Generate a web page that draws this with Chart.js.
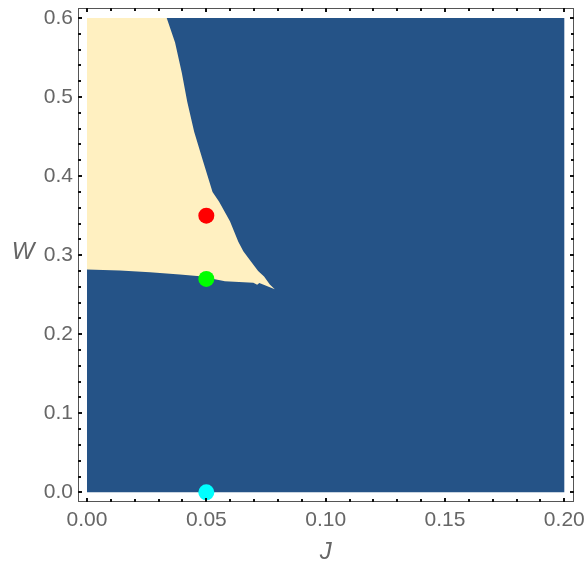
<!DOCTYPE html>
<html>
<head>
<meta charset="utf-8">
<script src="https://cdn.jsdelivr.net/npm/chart.js@4.4.0/dist/chart.umd.min.js"></script>
<style>
  html, body { margin: 0; padding: 0; background: #fff; }
</style>
</head>
<body>
<canvas id="myChart" width="587" height="567"></canvas>
<script>
// Datos de la region (J, W)
const blueJ = [0, 0.2, 0.2, 0];
const blueW = [0, 0, 0.6, 0.6];

const creamJ = [0, 0.0334, 0.0369, 0.0397, 0.0420, 0.0449, 0.0487, 0.0526, 0.0553, 0.0599,
    0.0634, 0.0655, 0.0687, 0.0717, 0.0742, 0.0766, 0.0787,
    0.0722, 0.0713, 0.0697, 0.0578, 0.0473, 0.0389, 0.0264, 0.0138, 0];
const creamW = [0.6, 0.6, 0.569, 0.531, 0.494, 0.456, 0.418, 0.380, 0.368, 0.343,
    0.317, 0.305, 0.292, 0.280, 0.273, 0.263, 0.257,
    0.2648, 0.2625, 0.2650, 0.2670, 0.2732, 0.2755, 0.2784, 0.2805, 0.2818];

const pointJ = [0.05, 0.05, 0.05];
const pointW = [0.35, 0.27, 0.0];
const pointColors = ['#FF0000', '#00FF00', '#00FFFF'];

const xTicks = [0, 0.05, 0.10, 0.15, 0.20];
const xTickLabels = ['0.00', '0.05', '0.10', '0.15', '0.20'];
const yTicks = [0, 0.1, 0.2, 0.3, 0.4, 0.5, 0.6];
const yTickLabels = ['0.0', '0.1', '0.2', '0.3', '0.4', '0.5', '0.6'];

function toXY(xs, ys) {
    return xs.map((x, i) => ({ x: x, y: ys[i] }));
}

function noPad(s) {
    s.paddingTop = 0;
    s.paddingBottom = 0;
    s.paddingLeft = 0;
    s.paddingRight = 0;
}

// Marco con ticks hacia adentro
const framePlugin = {
    id: 'frame',
    afterDraw(chart) {
        const ctx = chart.ctx;
        const a = chart.chartArea;
        const xs = chart.scales.x;
        const ys = chart.scales.y;
        ctx.save();
        ctx.strokeStyle = '#555';
        ctx.lineWidth = 1;
        ctx.strokeRect(a.left + 0.5, a.top + 0.5, a.right - a.left - 1, a.bottom - a.top - 1);

        ctx.strokeStyle = '#111';
        ctx.lineWidth = 2;
        ctx.beginPath();
        for (let i = 0; i <= 20; i++) {
            const v = i * 0.01;
            const len = (i % 5 === 0) ? 4 : 3;
            const px = Math.round(xs.getPixelForValue(v));
            ctx.moveTo(px, a.bottom); ctx.lineTo(px, a.bottom - len);
            ctx.moveTo(px, a.top); ctx.lineTo(px, a.top + len);
        }
        for (let i = 0; i <= 30; i++) {
            const v = i * 0.02;
            const len = (i % 5 === 0) ? 4 : 3;
            const py = Math.round(ys.getPixelForValue(v));
            ctx.moveTo(a.left, py); ctx.lineTo(a.left + len, py);
            ctx.moveTo(a.right, py); ctx.lineTo(a.right - len, py);
        }
        ctx.stroke();

        // titulos de ejes
        ctx.fillStyle = '#666';
        ctx.font = 'italic 24px "Liberation Sans", Arial, sans-serif';
        ctx.textAlign = 'center';
        ctx.textBaseline = 'middle';
        ctx.fillText('J', (xs.getPixelForValue(0.1)), 552);
        ctx.fillText('W', 23, 252);
        ctx.restore();
    }
};

const data = {
    datasets: [
        {
            data: toXY(pointJ, pointW),
            showLine: false,
            pointRadius: 8,
            pointBorderWidth: 0,
            pointBackgroundColor: pointColors,
            order: 0,
            clip: false
        },
        {
            data: toXY(creamJ, creamW),
            borderWidth: 0,
            pointRadius: 0,
            tension: 0,
            fill: 'shape',
            backgroundColor: '#FFF0C1',
            order: 1
        },
        {
            data: toXY(blueJ, blueW),
            borderWidth: 0,
            pointRadius: 0,
            tension: 0,
            fill: 'shape',
            backgroundColor: '#255387',
            order: 2
        }
    ]
};

const tickFont = { family: '"Liberation Sans", Arial, sans-serif', size: 21 };

const config = {
    type: 'line',
    data,
    options: {
        responsive: false,
        animation: false,
        devicePixelRatio: 1,
        layout: { padding: { top: 5, right: 13, left: 0, bottom: 0 } },
        plugins: { legend: { display: false }, tooltip: { enabled: false } },
        scales: {
            x: {
                type: 'linear',
                min: -0.00377,
                max: 0.20406,
                grid: { display: false, drawTicks: false },
                border: { display: false },
                afterBuildTicks: s => { s.ticks = xTicks.map(v => ({ value: v })); },
                afterFit: s => { s.height = 65; noPad(s); },
                ticks: {
                    autoSkip: false,
                    maxRotation: 0,
                    color: '#666',
                    font: tickFont,
                    padding: 6,
                    callback: (v, i) => xTickLabels[i]
                }
            },
            y: {
                type: 'linear',
                min: -0.0122,
                max: 0.6126,
                grid: { display: false, drawTicks: false },
                border: { display: false },
                afterBuildTicks: s => { s.ticks = yTicks.map(v => ({ value: v })); },
                afterFit: s => { s.width = 78; noPad(s); },
                ticks: {
                    autoSkip: false,
                    color: '#666',
                    font: tickFont,
                    padding: 5,
                    callback: (v, i) => yTickLabels[i]
                }
            }
        }
    },
    plugins: [framePlugin]
};

var myChart = new Chart(document.getElementById('myChart'), config);
</script>
</body>
</html>
